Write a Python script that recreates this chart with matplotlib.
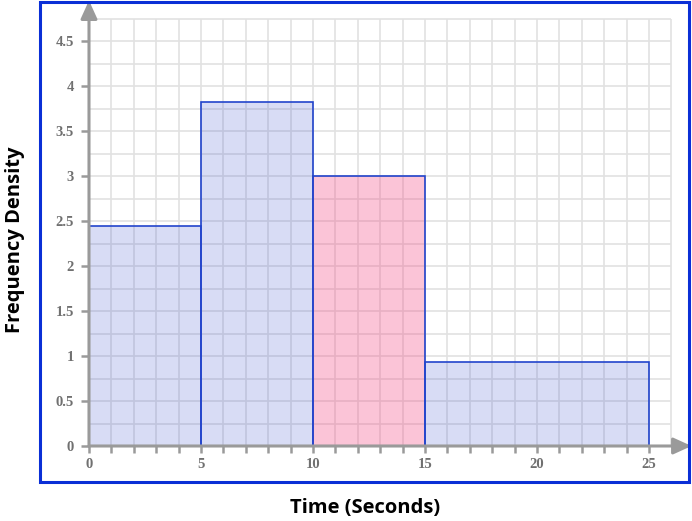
import numpy as np
import matplotlib.pyplot as plt
from matplotlib.patches import Rectangle

# histogram data
class_edges = [0, 5, 10, 15, 25]
freq_density = [2.44, 3.82, 3.0, 0.93]
highlight = 2

x_tick_labels = [0, 5, 10, 15, 20, 25]
y_tick_labels = [0, 0.5, 1, 1.5, 2, 2.5, 3, 3.5, 4, 4.5]

W, H = 692, 521
fig = plt.figure(figsize=(W / 100, H / 100), dpi=100)

# axes placed so that data 0 sits at pixel (89, 446)
x_max, y_max = 26.9, 4.95
ax = fig.add_axes([89 / W, (H - 446) / H, x_max * 22.4 / W, y_max * 90 / H])
ax.set_xlim(0, x_max)
ax.set_ylim(0, y_max)
for s in ax.spines.values():
    s.set_visible(False)

grid_col = '#e2e2e2'
ax.vlines(np.arange(1, 27), 0, 4.75, color=grid_col, lw=1.2, zorder=0)
ax.hlines(np.arange(0.25, 4.8, 0.25), 0, 26, color=grid_col, lw=1.2, zorder=0)

# bars
lefts = class_edges[:-1]
widths = np.diff(class_edges)
colors = [(0.25, 0.33, 0.82, 0.2)] * len(freq_density)
colors[highlight] = (0.96, 0.24, 0.49, 0.3)
ax.bar(lefts, freq_density, width=widths, align='edge', color=colors,
       edgecolor='#2244cc', linewidth=1.2, zorder=2)

# axis arrows
axis_col = '#9a9a9a'
ax.annotate('', xy=(x_max, 0), xytext=(0, 0),
            arrowprops=dict(arrowstyle='-|>,head_length=1.1,head_width=0.5',
                            color=axis_col, lw=2.2, shrinkA=0, shrinkB=0),
            annotation_clip=False, zorder=3)
ax.annotate('', xy=(0, y_max), xytext=(0, 0),
            arrowprops=dict(arrowstyle='-|>,head_length=1.1,head_width=0.5',
                            color=axis_col, lw=2.2, shrinkA=0, shrinkB=0),
            annotation_clip=False, zorder=3)

tick_font = dict(family='Liberation Serif', weight='bold', size=10.5)
ax.set_xticks(x_tick_labels)
ax.set_xticklabels([str(v) for v in x_tick_labels], color='#707070', **tick_font)
ax.set_xticks(np.arange(0, 26), minor=True)
ax.set_yticks(y_tick_labels)
ax.set_yticklabels([f'{v:g}' for v in y_tick_labels], color='#707070', **tick_font)
ax.tick_params(axis='x', which='both', direction='out', length=5, width=1.8,
               color=axis_col, pad=4)
ax.tick_params(axis='y', direction='out', length=6, width=1.8,
               color=axis_col, pad=5)

# blue frame around the plot area
fig.patches.append(Rectangle((40 / W, (H - 482) / H), 649 / W, 480 / H,
                             transform=fig.transFigure, fill=False,
                             edgecolor='#0a2fd6', lw=2.2, zorder=5))

label_font = dict(family=['Open Sans', 'DejaVu Sans'], weight='bold', size=14.5)
fig.text(365 / W, 1 - 508 / H, 'Time (Seconds)', ha='center', va='center', **label_font)
fig.text(15 / W, 1 - 240 / H, 'Frequency Density', ha='center', va='center',
         rotation=90, **label_font)

fig.savefig('out.png', dpi=100)
